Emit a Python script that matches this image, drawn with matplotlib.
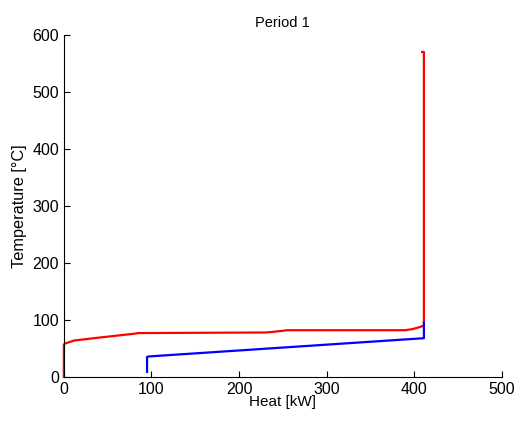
import matplotlib
matplotlib.use('Agg')
import matplotlib.pyplot as plt

plt.rcParams['font.family'] = ['Liberation Sans', 'DejaVu Sans']

# hot composite curve (heat kW, temperature C)
hot_q = [0, 0, 2, 12, 40, 81, 85, 230, 238, 250, 255, 390, 398, 405, 411, 411, 411, 409]
hot_t = [0, 57, 59, 64, 69, 76, 77, 78, 79, 81, 82, 82, 84, 87, 90, 100, 570, 570]

# cold composite curve
cold_q = [95, 95, 97, 411, 411]
cold_t = [9, 35, 36, 68, 95]

xticks = [0, 100, 200, 300, 400, 500]
yticks = [0, 100, 200, 300, 400, 500, 600]

fig = plt.figure(figsize=(5.19, 4.25), dpi=100)
ax = fig.add_axes([0.123, 0.113, 0.844, 0.805])
ax.plot(hot_q, hot_t, color='red', lw=1.6, clip_on=False)
ax.plot(cold_q, cold_t, color='blue', lw=1.6, clip_on=False)

ax.set_xlim(0, 500)
ax.set_ylim(0, 600)
ax.set_xticks(xticks)
ax.set_yticks(yticks)
ax.tick_params(direction='in', labelsize=11.5, length=4)
ax.spines['top'].set_visible(False)
ax.spines['right'].set_visible(False)
ax.set_xlabel('Heat [kW]', fontsize=11, labelpad=-1)
ax.set_ylabel('Temperature [°C]', fontsize=11.7)
ax.set_title('Period 1', fontsize=10.5)

fig.savefig('out.png', dpi=100)
